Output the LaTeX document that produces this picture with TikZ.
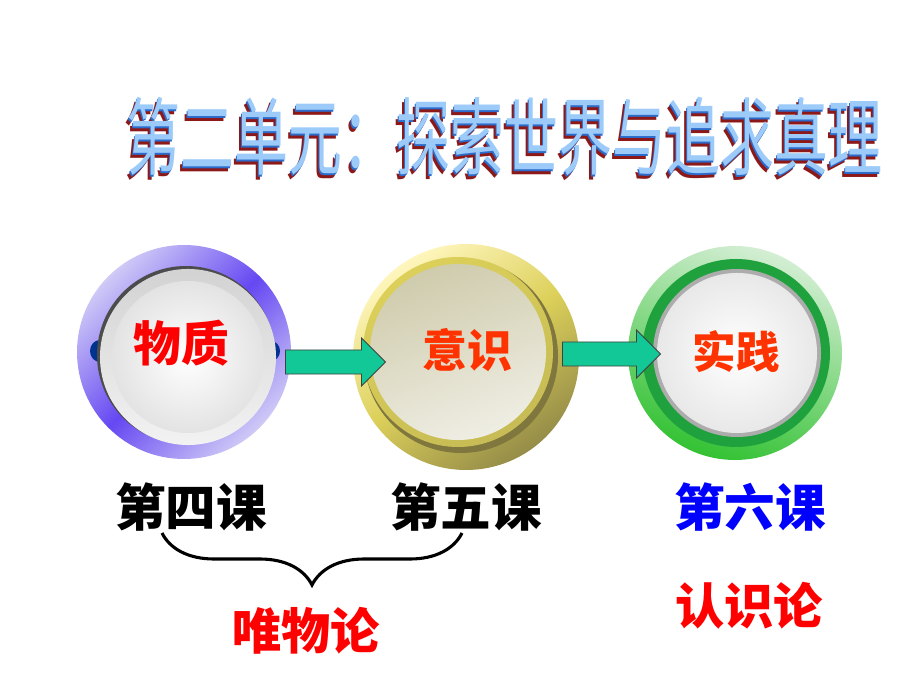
\documentclass[tikz,border=0pt]{standalone}
\usepackage{fontspec}
\newfontfamily\cjk{Noto Sans CJK SC}
\usetikzlibrary{shapes.arrows,decorations.pathreplacing}
\definecolor{arrowgreen}{HTML}{12C896}
\definecolor{lavender}{HTML}{CFCAF6}
\definecolor{ringpurple}{HTML}{6648F2}
\definecolor{paleyellow}{HTML}{FFF6BE}
\definecolor{ringyellow}{HTML}{DCD05A}
\definecolor{olive}{HTML}{958C48}
\definecolor{ringgreen}{HTML}{1FA23E}
\definecolor{halogreen}{HTML}{D4EED4}
\definecolor{titleblue}{HTML}{2C6CCC}
\definecolor{titlelight}{HTML}{9CCBFA}
\definecolor{titleshadow}{HTML}{8C1818}
\definecolor{labelred}{HTML}{FF3300}
% shadowed and edged title letters
\newcommand\embossed[1]{%
	\makebox[0pt][l]{\kern-2pt\raisebox{-2.2pt}{\color{titleshadow}#1}}%
	\makebox[0pt][l]{\color{titleblue}#1}%
	\kern1pt\raisebox{1pt}{\color{titlelight}#1}}
\begin{document}
\begin{tikzpicture}[x=0.025cm,y=0.025cm,
	every node/.style={font=\cjk,inner sep=0pt},
	disk/.style={circle,minimum size=#1},
	flowarrow/.style={single arrow,draw=black!75,line width=0.6pt,fill=arrowgreen,
		inner xsep=0pt,inner ysep=0.29cm,minimum height=2.5cm,single arrow head extend=0.3cm,anchor=tail},
	titletext/.style={xscale=0.64,font=\cjk\fontsize{60}{66}\selectfont},
	lesson/.style={font=\cjk\bfseries\fontsize{36}{40}\selectfont},
	theory/.style={font=\cjk\bfseries\fontsize{35}{40}\selectfont,text=red},
	tab/.style={fill=blue!45!black!80!cyan}]
	\fill[white] (0,0) rectangle (920,690);
	% title
	\node[titletext] (title) at (504,551) {\embossed{第二单元：探索世界与追求真理}};
	% first button: purple ring
	\shade[top color=lavender,bottom color=lavender,middle color=ringpurple,shading angle=45] (184,338) circle[radius=107];
	\fill[tab] (100,339) ellipse[x radius=10,y radius=11];
	\fill[tab] (271,339) ellipse[x radius=9,y radius=10];
	\fill[black!70] (186,335) circle[radius=89];
	\node[disk=4.4cm,top color=gray!35,bottom color=gray!10] (matter) at (188,333) {};
	\shade[inner color=white,outer color=gray!22] (matter.center) circle[radius=76];
	% second button: yellow ring
	\shade[top color=paleyellow,bottom color=olive,middle color=ringyellow,shading angle=35] (466,333) circle[radius=113];
	\fill[olive!85!black] (461,334) circle[radius=97];
	\shade[top color=ringyellow,bottom color=ringyellow!70!olive,shading angle=30] (458,338) circle[radius=95];
	\node[disk=4.4cm,top color=olive!45!white,bottom color=olive!15!white,shading angle=20] (mind) at (458,338) {};
	% third button: green ring
	\shade[left color=halogreen,right color=green!70!black!80,shading angle=-20] (735,337) circle[radius=107];
	\fill[ringgreen] (736,337) circle[radius=94];
	\fill[gray!65] (737,337) circle[radius=84];
	\node[disk=4cm,inner color=white,outer color=gray!18] (practice) at (737,337) {};
	% arrows
	\node[flowarrow] (toMind) at (285,328) {};
	\node[flowarrow,minimum height=2.45cm] (toPractice) at (562,336) {};
	% button labels
	\node[font=\cjk\bfseries\fontsize{34}{38}\selectfont,text=red] (matterlbl) at (181,347) {物质};
	\node[font=\cjk\bfseries\fontsize{32}{36}\selectfont,text=labelred] (mindlbl) at (467,340) {意识};
	\node[font=\cjk\bfseries\fontsize{31}{36}\selectfont,text=labelred] (practicelbl) at (736,338) {实践};
	% lessons
	\node[lesson] (lesson4) at (191,183) {第四课};
	\node[lesson] (lesson5) at (466,183) {第五课};
	\node[lesson,text=blue] (lesson6) at (750,183) {第六课};
	\coordinate (braceL) at (162,157);
	\coordinate (braceR) at (462,157);
	\draw[line width=2.2pt,decorate,decoration={brace,mirror,amplitude=1.3cm}] (braceL) -- (braceR);
	\node[theory] (materialism) at (306,59) {唯物论};
	\node[theory] (epistemology) at (749,84) {认识论};
\end{tikzpicture}
\end{document}
